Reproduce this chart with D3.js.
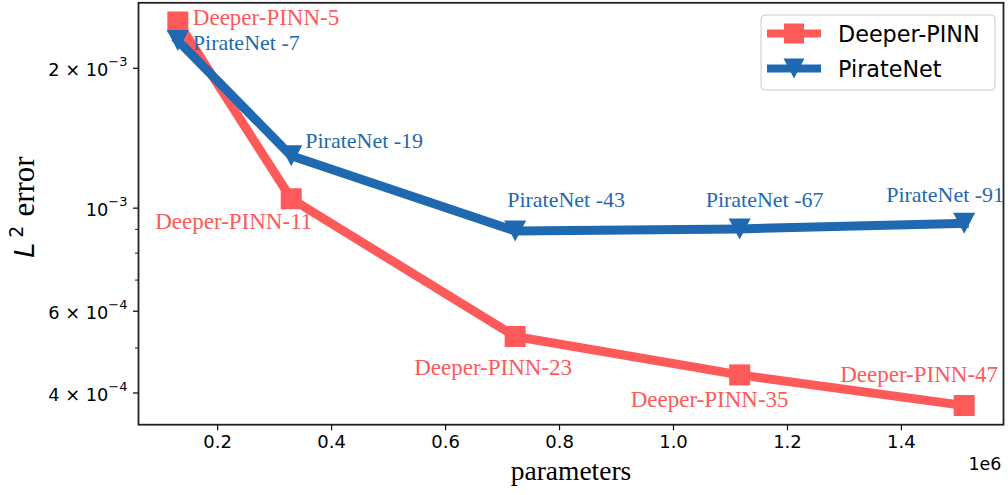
<!DOCTYPE html>
<html>
<head>
<meta charset="utf-8">
<script src="https://cdn.jsdelivr.net/npm/d3@7"></script>
<style>
  html, body { margin: 0; padding: 0; background: #fff; }
  svg { display: block; }
</style>
</head>
<body>
<svg id="chart" width="1008" height="495"></svg>
<script>
// ---------------- data ----------------
const deeperParams = [131000, 330000, 723000, 1117000, 1511000];
const deeperErr    = [2.51e-3, 1.045e-3, 5.28e-4, 4.365e-4, 3.75e-4];
const deeperNames  = ["Deeper-PINN-5", "Deeper-PINN-11", "Deeper-PINN-23", "Deeper-PINN-35", "Deeper-PINN-47"];

const pirateParams = [131000, 330000, 723000, 1117000, 1511000];
const pirateErr    = [2.29e-3, 1.293e-3, 8.91e-4, 9.0e-4, 9.25e-4];
const pirateNames  = ["PirateNet -7", "PirateNet -19", "PirateNet -43", "PirateNet -67", "PirateNet -91"];

const seriesNames = ["Deeper-PINN", "PirateNet"];

const xTickValues = [200000, 400000, 600000, 800000, 1000000, 1200000, 1400000];
const xTickLabels = ["0.2", "0.4", "0.6", "0.8", "1.0", "1.2", "1.4"];
const xOffsetLabel = "1e6";

const yMajorValues   = [2e-3, 1e-3, 6e-4, 4e-4];
const yMajorMantissa = ["2 × 10", "10", "6 × 10", "4 × 10"];
const yMajorExponent = ["−3", "−3", "−4", "−4"];
const yMinorValues   = [3e-4, 5e-4, 7e-4, 8e-4, 9e-4, 3e-3];

// label offsets (pixels, relative to the marker) : [dx, dy] of text start/baseline
const deeperLabelOffsets = [[15, 3], [-136, 30], [-101, 39], [-109, 32], [-124, -24]];
const pirateLabelOffsets = [[15, 10], [14, -8], [-8, -24], [-34, -22], [-78, -21]];

// ---------------- layout ----------------
const W = 1008, H = 495;
const margin = { left: 138.5, right: 4.5, top: 2.8, bottom: 70.3 };
const red = "#ff5a5a", blue = "#1f69b1";

const svg = d3.select("#chart");

// matplotlib-like 5% autoscale margins
const allX = deeperParams.concat(pirateParams);
const xMin = d3.min(allX), xMax = d3.max(allX), xPad = 0.05 * (xMax - xMin);
const allY = deeperErr.concat(pirateErr).map(Math.log10);
const lyMin = d3.min(allY), lyMax = d3.max(allY), lyPad = 0.05 * (lyMax - lyMin);

const x = d3.scaleLinear()
  .domain([xMin - xPad, xMax + xPad])
  .range([margin.left, W - margin.right]);
const y = d3.scaleLog()
  .domain([Math.pow(10, lyMin - lyPad), Math.pow(10, lyMax + lyPad)])
  .range([H - margin.bottom, margin.top]);

const plotLeft = margin.left, plotRight = W - margin.right;
const plotTop = margin.top, plotBottom = H - margin.bottom;

// ---------------- axes ----------------
const tickFont = "DejaVu Sans, sans-serif";
const xAxis = d3.axisBottom(x).tickValues(xTickValues)
  .tickFormat((d, i) => xTickLabels[i]).tickSize(5.5).tickPadding(5);
const gx = svg.append("g").attr("transform", `translate(0,${plotBottom})`).call(xAxis);
gx.select(".domain").remove();
gx.selectAll(".tick line").attr("stroke", "#000").attr("stroke-width", 1.2);
gx.selectAll(".tick text").attr("font-family", tickFont).attr("font-size", 18).attr("fill", "#000");

const yMinorAxis = d3.axisLeft(y).tickValues(yMinorValues.filter(v => v >= y.domain()[0] && v <= y.domain()[1]))
  .tickFormat("").tickSize(3.5);
const gym = svg.append("g").attr("transform", `translate(${plotLeft},0)`).call(yMinorAxis);
gym.select(".domain").remove();
gym.selectAll(".tick line").attr("stroke", "#000").attr("stroke-width", 0.9);

const yAxis = d3.axisLeft(y).tickValues(yMajorValues).tickFormat("").tickSize(5.5);
const gy = svg.append("g").attr("transform", `translate(${plotLeft},0)`).call(yAxis);
gy.select(".domain").remove();
gy.selectAll(".tick line").attr("stroke", "#000").attr("stroke-width", 1.2);
gy.selectAll(".tick").each(function(d, i) {
  const t = d3.select(this).append("text")
    .attr("x", -11).attr("y", 7.5)
    .attr("text-anchor", "end")
    .attr("font-family", tickFont).attr("font-size", 17.8).attr("fill", "#000");
  t.append("tspan").text(yMajorMantissa[i]);
  t.append("tspan").attr("dy", -9.5).attr("font-size", 13).text(yMajorExponent[i]);
});

// frame
svg.append("rect")
  .attr("x", plotLeft).attr("y", plotTop)
  .attr("width", plotRight - plotLeft).attr("height", plotBottom - plotTop)
  .attr("fill", "none").attr("stroke", "#222").attr("stroke-width", 1.8);

// axis labels
svg.append("text")
  .attr("x", (plotLeft + plotRight) / 2).attr("y", 480)
  .attr("text-anchor", "middle")
  .attr("font-family", "Liberation Serif, Times New Roman, serif").attr("font-size", 27.5)
  .attr("fill", "#000").text("parameters");

svg.append("text")
  .attr("x", plotRight - 2).attr("y", 470)
  .attr("text-anchor", "end")
  .attr("font-family", tickFont).attr("font-size", 17.5)
  .attr("fill", "#000").text(xOffsetLabel);

const yl = svg.append("text")
  .attr("transform", `translate(34,207) rotate(-90)`)
  .attr("text-anchor", "middle")
  .attr("fill", "#000");
yl.append("tspan").attr("font-family", "DejaVu Sans, sans-serif").attr("font-style", "italic")
  .attr("font-size", 27).text("L");
yl.append("tspan").attr("font-family", "DejaVu Sans, sans-serif").attr("font-size", 19)
  .attr("dy", -11).attr("dx", 5).text("2");
yl.append("tspan").attr("font-family", "Liberation Serif, Times New Roman, serif")
  .attr("font-size", 31).attr("dy", 11).attr("dx", 9).text("error");

// ---------------- series ----------------
const line = d3.line().x(d => x(d[0])).y(d => y(d[1]));
const deeperData = deeperParams.map((p, i) => [p, deeperErr[i]]);
const pirateData = pirateParams.map((p, i) => [p, pirateErr[i]]);

const markSize = 21;
const triPath = (s) => {
  const h = s / 2;
  return `M${-h * 1.05},${-h} L${h * 1.05},${-h} L0,${h} Z`;
};

function drawSeries(data, color, marker) {
  svg.append("path").datum(data)
    .attr("d", line).attr("fill", "none")
    .attr("stroke", color).attr("stroke-width", 9)
    .attr("stroke-linejoin", "round").attr("stroke-linecap", "square");
  const g = svg.append("g");
  data.forEach(d => {
    if (marker === "square") {
      g.append("rect")
        .attr("x", x(d[0]) - markSize / 2).attr("y", y(d[1]) - markSize / 2)
        .attr("width", markSize).attr("height", markSize).attr("fill", color);
    } else {
      g.append("path")
        .attr("transform", `translate(${x(d[0])},${y(d[1])})`)
        .attr("d", triPath(markSize)).attr("fill", color);
    }
  });
}
drawSeries(deeperData, red, "square");
drawSeries(pirateData, blue, "tri");

// annotations
const annFont = "Liberation Serif, Times New Roman, serif";
function annotate(data, names, offs, color, size) {
  data.forEach((d, i) => {
    svg.append("text")
      .attr("x", x(d[0]) + offs[i][0]).attr("y", y(d[1]) + offs[i][1])
      .attr("font-family", annFont).attr("font-size", size)
      .attr("fill", color).text(names[i]);
  });
}
annotate(deeperData, deeperNames, deeperLabelOffsets, red, 23);
annotate(pirateData, pirateNames, pirateLabelOffsets, blue, 22);

// ---------------- legend ----------------
const lg = svg.append("g");
lg.append("rect")
  .attr("x", 761).attr("y", 15).attr("width", 234).attr("height", 75)
  .attr("rx", 4).attr("fill", "#fff").attr("fill-opacity", 0.8)
  .attr("stroke", "#cccccc").attr("stroke-width", 1);
const legendColors = [red, blue];
const legendMarkers = ["square", "tri"];
seriesNames.forEach((name, i) => {
  const cy = 33.5 + i * 35;
  lg.append("line").attr("x1", 767).attr("x2", 821).attr("y1", cy).attr("y2", cy)
    .attr("stroke", legendColors[i]).attr("stroke-width", 8);
  if (legendMarkers[i] === "square") {
    lg.append("rect").attr("x", 794 - 10).attr("y", cy - 10).attr("width", 20).attr("height", 20)
      .attr("fill", legendColors[i]);
  } else {
    lg.append("path").attr("transform", `translate(794,${cy})`).attr("d", triPath(20))
      .attr("fill", legendColors[i]);
  }
  lg.append("text").attr("x", 838).attr("y", cy + 8)
    .attr("font-family", "DejaVu Sans, sans-serif").attr("font-size", 22.3)
    .attr("fill", "#000").text(name);
});
</script>
</body>
</html>
